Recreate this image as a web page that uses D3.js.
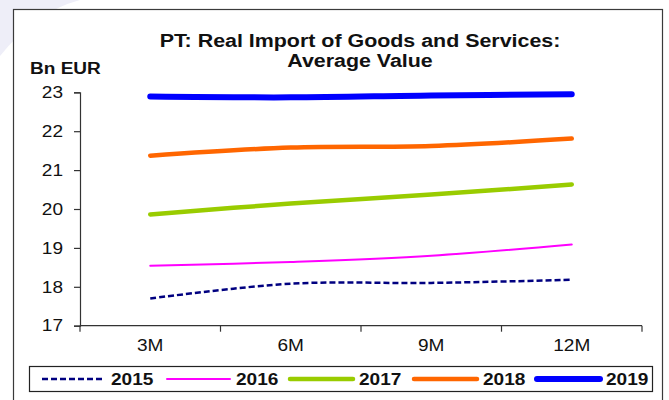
<!DOCTYPE html>
<html>
<head>
<meta charset="utf-8">
<script src="https://cdn.jsdelivr.net/npm/d3@7"></script>
<style>
  html, body { margin: 0; padding: 0; background: #fff; }
  svg { display: block; font-family: Arial, "Liberation Sans", sans-serif; }
</style>
</head>
<body>
<svg id="chart" width="669" height="400"></svg>
<script>
// Horizons (cumulative months) on the x axis
const horizons = ["3M", "6M", "9M", "12M"];

// Average value of real imports, Bn EUR, one array per year
const years = ["2015", "2016", "2017", "2018", "2019"];
const v2015 = [17.70, 18.08, 18.10, 18.18];
const v2016 = [18.54, 18.64, 18.80, 19.09];
const v2017 = [19.86, 20.14, 20.37, 20.63];
const v2018 = [21.37, 21.58, 21.62, 21.81];
const v2019 = [22.89, 22.87, 22.92, 22.95];

const yTicks = [17, 18, 19, 20, 21, 22, 23];

const seriesValues = [v2015, v2016, v2017, v2018, v2019];
const seriesStyle = [
  { color: "#000080", width: 2.5, dash: "6,3" },
  { color: "#ff00ff", width: 2,   dash: null },
  { color: "#99cc00", width: 4.5, dash: null },
  { color: "#ff6600", width: 4.5, dash: null },
  { color: "#0000ff", width: 6,   dash: null }
];

// all chart text uses a horizontally widened face
const STRETCH = 1.19;
function label(parent, ax, ay, txt, opts) {
  const o = Object.assign({ size: 16, bold: false, anchor: "start" }, opts || {});
  return parent.append("g")
    .attr("transform", `translate(${ax},${ay}) scale(${STRETCH},1)`)
    .append("text")
    .attr("text-anchor", o.anchor)
    .attr("font-size", o.size)
    .attr("font-weight", o.bold ? "bold" : "normal")
    .attr("fill", "#111")
    .text(txt);
}

const svg = d3.select("#chart");

// soft lavender wash in the top-left corner of the page
svg.append("path")
  .attr("d", "M0,0 L80,0 Q35,12 0,56 Z")
  .attr("fill", "#eeeef8");

// outer frame of the chart
svg.append("rect")
  .attr("x", 13.5).attr("y", 9.5)
  .attr("width", 649).attr("height", 400)
  .attr("fill", "#fff")
  .attr("stroke", "#3a3a3a").attr("stroke-width", 1.2);

const plot = { left: 80, right: 642, top: 92.3, bottom: 325.7 };

const x = d3.scaleBand().domain(horizons).range([plot.left, plot.right]).padding(0);
const y = d3.scaleLinear().domain([17, 23]).range([plot.bottom, plot.top]);

// title and unit label
label(svg, 360, 46.5, "PT: Real Import of Goods and Services:", { size: 18, bold: true, anchor: "middle" });
label(svg, 360, 66.5, "Average Value", { size: 18, bold: true, anchor: "middle" });
label(svg, 30, 73.5, "Bn EUR", { size: 16, bold: true });

// y axis: line and ticks from d3.axisLeft, labels drawn widened
const yAxis = svg.append("g")
  .attr("transform", `translate(${plot.left},0)`)
  .call(d3.axisLeft(y).tickValues(yTicks).tickFormat("").tickSize(6));
yAxis.select(".domain").attr("stroke", "#333").attr("stroke-width", 1.2);
yAxis.selectAll(".tick line").attr("stroke", "#333").attr("stroke-width", 1.2);
yTicks.forEach(t => label(svg, plot.left - 17, y(t) + 5.7, String(t), { anchor: "end" }));

// x axis: ticks sit on the category boundaries, labels in the middle of each band
const xAxisG = svg.append("g").attr("transform", `translate(0,${plot.bottom})`);
xAxisG.append("line")
  .attr("x1", plot.left).attr("x2", plot.right)
  .attr("stroke", "#333").attr("stroke-width", 1.2);
const bounds = horizons.map(h => x(h)).concat([x(horizons[horizons.length - 1]) + x.bandwidth()]);
xAxisG.selectAll("line.tick").data(bounds).enter().append("line")
  .attr("class", "tick")
  .attr("x1", d => d).attr("x2", d => d)
  .attr("y1", 0).attr("y2", 6)
  .attr("stroke", "#333").attr("stroke-width", 1.2);
horizons.forEach(h => label(xAxisG, x(h) + x.bandwidth() / 2, 25.5, h, { anchor: "middle" }));

// series lines
const line = d3.line()
  .x((d, i) => x(horizons[i]) + x.bandwidth() / 2)
  .y(d => y(d))
  .curve(d3.curveCatmullRom.alpha(0.5));

svg.append("g").selectAll("path")
  .data(seriesValues)
  .enter().append("path")
  .attr("d", d => line(d))
  .attr("fill", "none")
  .attr("stroke", (d, i) => seriesStyle[i].color)
  .attr("stroke-width", (d, i) => seriesStyle[i].width)
  .attr("stroke-dasharray", (d, i) => seriesStyle[i].dash)
  .attr("stroke-linecap", (d, i) => seriesStyle[i].dash ? "butt" : "round");

// legend
const legend = svg.append("g");
legend.append("rect")
  .attr("x", 29.5).attr("y", 366.5).attr("width", 623).attr("height", 25)
  .attr("fill", "#fff").attr("stroke", "#222").attr("stroke-width", 1.2);

const legendX = [42, 167, 290, 414, 537];
years.forEach((yr, i) => {
  const s = seriesStyle[i];
  legend.append("line")
    .attr("x1", legendX[i]).attr("x2", legendX[i] + 63)
    .attr("y1", 379).attr("y2", 379)
    .attr("stroke", s.color)
    .attr("stroke-width", s.width)
    .attr("stroke-dasharray", s.dash)
    .attr("stroke-linecap", s.dash ? "butt" : "round");
  label(legend, legendX[i] + 69, 384.8, yr, { bold: true });
});
</script>
</body>
</html>
